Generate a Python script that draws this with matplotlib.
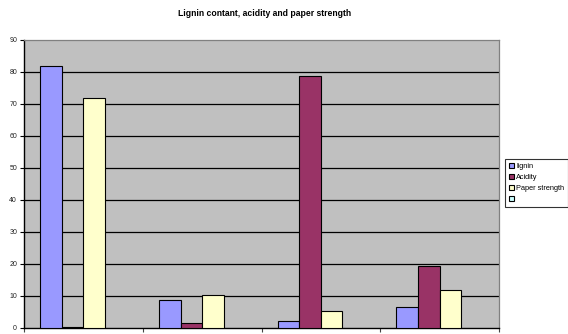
import matplotlib
matplotlib.use("Agg")
import matplotlib.pyplot as plt
from matplotlib.patches import Patch
import numpy as np

plt.rcParams['font.family'] = ['Liberation Sans', 'DejaVu Sans']

title = "Lignin contant, acidity and paper strength"
categories = ["", "", "", ""]
series_names = ["lignin", "Acidity", "Paper strength", ""]
lignin = [82.0, 8.8, 2.1, 6.7]
acidity = [0.3, 1.5, 78.8, 19.4]
paper_strength = [72.0, 10.4, 5.4, 11.9]
series_values = [lignin, acidity, paper_strength, []]
colors = ["#9999FF", "#993366", "#FFFFCC", "#CCFFFF"]
yticks = [0, 10, 20, 30, 40, 50, 60, 70, 80, 90]

W, H = 568, 334
fig = plt.figure(figsize=(W / 100, H / 100), dpi=100)
fig.patch.set_facecolor("white")
ax = fig.add_axes([24 / W, 1 - 328 / H, (499 - 24) / W, (328 - 40) / H])
ax.set_facecolor("#C0C0C0")

n_series = len(series_names)
bar_w = 1 / 5.5
x = np.arange(len(categories)) + 0.5
for k, (vals, col) in enumerate(zip(series_values, colors)):
    if len(vals) == 0:
        continue
    offs = (k - (n_series - 1) / 2) * bar_w
    ax.bar(x[:len(vals)] + offs, vals, width=bar_w, color=col,
           edgecolor="black", linewidth=0.8, zorder=3)

ax.set_xlim(0, len(categories))
ax.set_ylim(0, 90)
ax.set_yticks(yticks)
ax.set_yticklabels([str(t) for t in yticks], fontsize=5, color="#222222")
ax.set_xticks(np.arange(len(categories) + 1))
ax.set_xticklabels([""] * (len(categories) + 1))
ax.tick_params(axis="y", direction="out", length=3, width=0.8, pad=2)
ax.tick_params(axis="x", direction="out", length=3, width=0.8, color="#444444")

for t in yticks[1:-1]:
    ax.axhline(t, color="black", linewidth=0.9, zorder=1)

for side in ("top", "right"):
    ax.spines[side].set_color("#808080")
    ax.spines[side].set_linewidth(0.9)
ax.spines["left"].set_color("black")
ax.spines["left"].set_linewidth(1.0)
ax.spines["bottom"].set_color("black")
ax.spines["bottom"].set_linewidth(1.0)

fig.text(265 / W, 1 - 13 / H, title, ha="center", va="center",
         fontsize=6.2, fontweight="bold")

handles = [Patch(facecolor=c, edgecolor="black", linewidth=0.8) for c in colors]
leg = fig.legend(handles, series_names, loc="upper left",
                 bbox_to_anchor=(505 / W, 1 - 159 / H),
                 fontsize=5.3, frameon=True, fancybox=False,
                 handlelength=0.7, handleheight=0.7, handletextpad=0.3,
                 labelspacing=0.55, borderpad=0.5, borderaxespad=0)
leg.get_frame().set_edgecolor("black")
leg.get_frame().set_linewidth(0.8)
leg.get_frame().set_facecolor("white")

fig.savefig("out.png", dpi=100)
